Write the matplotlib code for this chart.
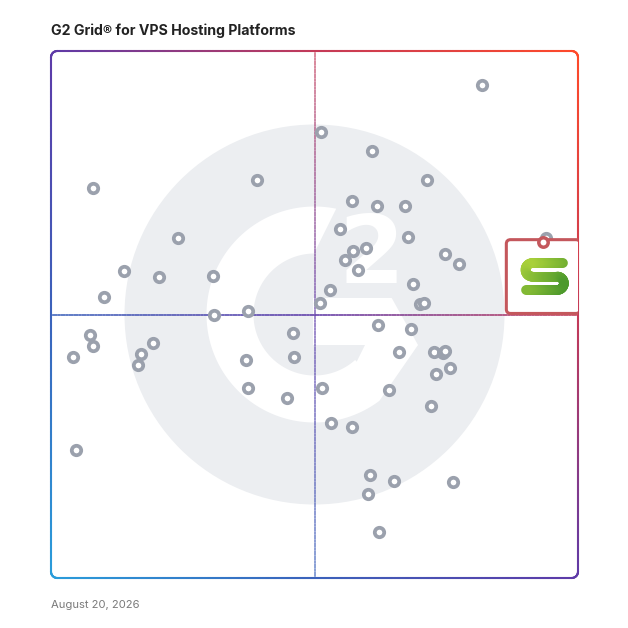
#!/usr/bin/env python3
"""
G2 Grid for VPS Hosting Platforms: satisfaction vs market presence.
"""
import numpy as np
import matplotlib
matplotlib.use('Agg')
import matplotlib.pyplot as plt
from matplotlib.collections import LineCollection
from matplotlib.colors import LinearSegmentedColormap
from matplotlib.patches import Circle, Polygon, FancyBboxPatch

# scores on a 0-100 scale (x = satisfaction, y = market presence)
satisfaction = [7.9, 39.0, 24.1, 13.9, 20.4, 30.8, 10.0, 31.0, 37.3, 51.2,
                51.1, 7.4, 7.9, 4.2, 19.3, 17.1, 16.6, 45.9, 46.1, 37.0,
                37.3, 44.7, 4.7, 51.5, 81.8, 60.9, 71.4, 57.2, 61.9, 67.2,
                54.8, 67.8, 57.3, 59.7, 55.7, 58.2, 74.7, 77.5, 53.0, 68.6,
                70.1, 70.7, 93.9, 62.1, 68.4, 66.0, 72.7, 74.3, 74.7, 75.8,
                73.1, 64.1, 72.2, 53.1, 57.2, 60.6, 65.0, 76.2, 60.2, 62.3]
market_presence = [74.0, 75.5, 64.6, 58.3, 57.2, 57.4, 53.4, 49.9, 50.7, 84.7,
                   52.1, 46.1, 44.1, 41.9, 44.6, 42.5, 40.4, 46.5, 41.9, 41.4,
                   36.1, 34.1, 24.2, 36.0, 93.6, 81.0, 75.5, 71.5, 70.6, 70.5,
                   66.3, 64.8, 62.0, 62.6, 60.4, 58.4, 61.4, 59.5, 54.6, 55.7,
                   52.0, 52.1, 64.6, 48.1, 47.3, 42.8, 42.8, 42.6, 43.1, 39.8,
                   38.8, 35.6, 32.7, 29.4, 28.7, 19.6, 18.4, 18.2, 16.0, 8.7]

# highlighted product
featured_x = 93.4
featured_y = 63.8

title = 'G2 Grid® for VPS Hosting Platforms'
date_label = 'August 20, 2026'

PX = 100 / 527.0  # data units per pixel

grad = LinearSegmentedColormap.from_list(
    'g2', [(0.0, '#2a9ddb'), (0.25, '#3b62bb'), (0.5, '#5e3aa8'),
           (0.75, '#c43a58'), (1.0, '#ff4a2a')])
leaf = LinearSegmentedColormap.from_list('leaf', ['#a9d03a', '#4c992c'])


def densify(xs, ys, step=0.5):
    ox, oy = [xs[0]], [ys[0]]
    for i in range(1, len(xs)):
        d = np.hypot(xs[i] - xs[i - 1], ys[i] - ys[i - 1])
        k = max(1, int(d / step))
        f = np.linspace(0, 1, k + 1)[1:]
        ox.extend(xs[i - 1] + f * (xs[i] - xs[i - 1]))
        oy.extend(ys[i - 1] + f * (ys[i] - ys[i - 1]))
    return np.array(ox), np.array(oy)


def grad_line(ax, xs, ys, lw, alpha=1.0, z=2):
    xs, ys = densify(xs, ys)
    pts = np.column_stack([xs, ys])
    segs = np.stack([pts[:-1], pts[1:]], axis=1)
    mid = (pts[:-1] + pts[1:]) / 2
    t = (mid[:, 0] + mid[:, 1]) / 200.0
    lc = LineCollection(segs, colors=grad(t), linewidths=lw, alpha=alpha,
                        capstyle='round', zorder=z, clip_on=False)
    ax.add_collection(lc)


def rounded_rect(x0, y0, x1, y1, r, n=20):
    xs, ys = [], []
    corners = [(x1 - r, y1 - r, 0), (x0 + r, y1 - r, 90),
               (x0 + r, y0 + r, 180), (x1 - r, y0 + r, 270)]
    for cx, cy, a0 in corners:
        a = np.radians(np.linspace(a0, a0 + 90, n))
        xs.extend(cx + r * np.cos(a))
        ys.extend(cy + r * np.sin(a))
    xs.append(xs[0])
    ys.append(ys[0])
    return np.array(xs), np.array(ys)


fig = plt.figure(figsize=(6.28, 6.28), dpi=100)
ax = fig.add_axes([51 / 628, 50 / 628, 527 / 628, 527 / 628])
ax.set_xlim(0, 100)
ax.set_ylim(0, 100)
ax.axis('off')

# G2 watermark
wm = '#eceef1'
cx, cy = 50, 50
ax.add_patch(Circle((cx, cy), 190 * PX, color=wm, lw=0, zorder=0))
a_out = np.radians(np.linspace(78.4, 306.9, 120))
a_in = np.radians(np.linspace(311.8, 90.5, 120))
chev = [(103.5, -30.5), (77.2, 16.5), (-1.5, 16.5), (-1.5, -30.5),
        (50.5, -30.5), (42.2, -47.2)]
poly = [(108 * np.cos(a), 108 * np.sin(a)) for a in a_out]
poly += chev
poly += [(61 * np.cos(a), 61 * np.sin(a)) for a in a_in]
poly = [(cx + dx * PX, cy + dy * PX) for dx, dy in poly]
ax.add_patch(Polygon(poly, closed=True, color='white', lw=0, zorder=0.5))
ax.text(cx + 57.2 * PX, cy + 31.5 * PX, '2', color='white', fontsize=68,
        fontweight='bold', family='DejaVu Sans', ha='center',
        va='baseline', zorder=0.6)

# quadrant lines
n = 200
line = np.linspace(0, 100, n)
grad_line(ax, line, np.full(n, 50.0), 1.1, alpha=0.9)
grad_line(ax, np.full(n, 50.0), line, 1.1, alpha=0.6)

# border
bx, by = rounded_rect(0, 0, 100, 100, 1.2)
grad_line(ax, bx, by, 1.5, z=2.5)

# products
ax.scatter(satisfaction, market_presence, s=46, facecolor='white',
           edgecolor='#9ba1ad', linewidths=2.7, zorder=3)

# featured product callout
bw = 14.0
bx0 = featured_x - bw / 2
by0 = featured_y - bw + 0.4
ax.add_patch(FancyBboxPatch((bx0, by0), bw, bw,
                            boxstyle='round,pad=0,rounding_size=0.8',
                            facecolor='white', edgecolor='#c4575c',
                            lw=2.2, zorder=4))
ax.scatter([featured_x], [featured_y], s=46, facecolor='white',
           edgecolor='#c4575c', linewidths=2.5, zorder=5)

# logo: stylised S with a green gradient
r = 0.091
top = np.radians(np.linspace(90, 270, 30))
bot = np.radians(np.linspace(90, -90, 30))
sx = [0.77, 0.351] + list(0.351 + r * np.cos(top)) + [0.689] + \
     list(0.689 + r * np.cos(bot)) + [0.27]
sy = [0.682, 0.682] + list(0.591 + r * np.sin(top)) + [0.5] + \
     list(0.409 + r * np.sin(bot)) + [0.318]
sx, sy = densify(bx0 + np.array(sx) * bw, by0 + np.array(sy) * bw, 0.2)
spts = np.column_stack([sx, sy])
ssegs = np.stack([spts[:-1], spts[1:]], axis=1)
sm = (spts[:-1] + spts[1:]) / 2
st = ((sm[:, 0] - bx0) - (sm[:, 1] - by0)) / bw
st = (st - st.min()) / (st.max() - st.min())
ax.add_collection(LineCollection(ssegs, colors=leaf(st), linewidths=7.0,
                                 capstyle='round', zorder=6))

fig.text(51 / 628, 1 - 31 / 628, title, fontsize=10.2, fontweight='bold',
         family='Inter', color='#222222', ha='left', va='center')
fig.text(51 / 628, 1 - 605 / 628, date_label, fontsize=8.1,
         family='Inter', color='#7a7a7a', ha='left', va='center')

fig.savefig('out.png', dpi=100, facecolor='white')
